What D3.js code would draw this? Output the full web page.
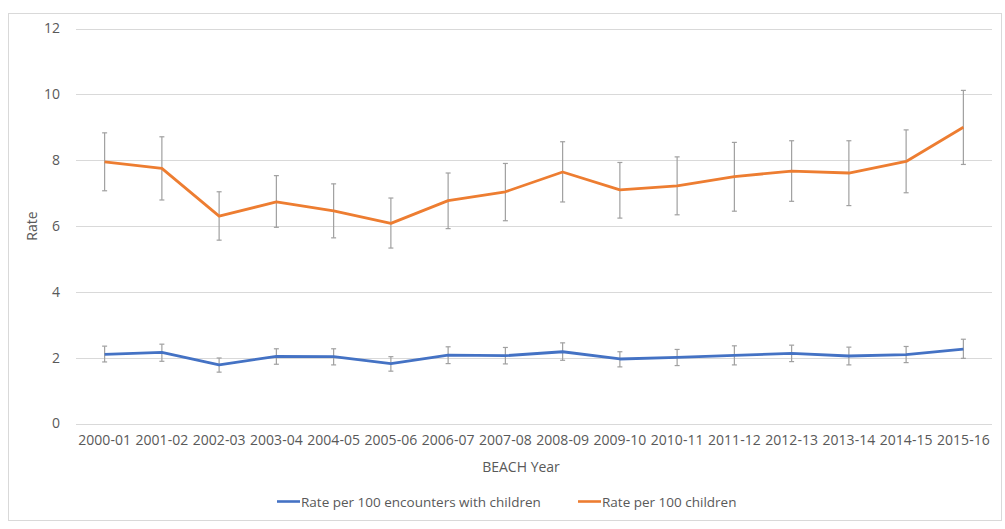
<!DOCTYPE html>
<html>
<head>
<meta charset="utf-8">
<script src="https://cdn.jsdelivr.net/npm/d3@7"></script>
<style>
  html, body { margin: 0; padding: 0; background: #fff; }
  svg { display: block; }
  text { font-family: "Open Sans", "Liberation Sans", sans-serif; fill: #595959; }
</style>
</head>
<body>
<svg id="chart" width="1005" height="529"></svg>
<script>
// BEACH years on the x axis
const years = ["2000-01","2001-02","2002-03","2003-04","2004-05","2005-06","2006-07","2007-08",
               "2008-09","2009-10","2010-11","2011-12","2012-13","2013-14","2014-15","2015-16"];

// Rate per 100 encounters with children, with 95% CI bounds
const encRate  = [2.10, 2.16, 1.78, 2.04, 2.03, 1.82, 2.08, 2.06, 2.18, 1.96, 2.01, 2.07, 2.13, 2.05, 2.09, 2.26];
const encLower = [1.87, 1.89, 1.56, 1.80, 1.78, 1.59, 1.82, 1.81, 1.92, 1.72, 1.76, 1.78, 1.88, 1.78, 1.85, 1.98];
const encUpper = [2.35, 2.41, 1.99, 2.27, 2.27, 2.03, 2.33, 2.31, 2.45, 2.18, 2.25, 2.36, 2.38, 2.32, 2.34, 2.56];

// Rate per 100 children, with 95% CI bounds
const childRate  = [7.95, 7.75, 6.30, 6.73, 6.46, 6.08, 6.77, 7.04, 7.64, 7.10, 7.22, 7.50, 7.67, 7.61, 7.96, 9.00];
const childLower = [7.07, 6.79, 5.57, 5.96, 5.64, 5.33, 5.92, 6.16, 6.73, 6.24, 6.34, 6.45, 6.75, 6.62, 7.01, 7.87];
const childUpper = [8.83, 8.71, 7.04, 7.53, 7.28, 6.85, 7.61, 7.90, 8.56, 7.93, 8.10, 8.54, 8.59, 8.59, 8.92, 10.12];

const yTicks = [0, 2, 4, 6, 8, 10, 12];

const seriesNames = ["Rate per 100 encounters with children", "Rate per 100 children"];
const seriesColors = ["#4472C4", "#ED7D31"];

const svg = d3.select("#chart");

// outer chart frame
svg.append("rect")
  .attr("x", 8.5).attr("y", 13.5)
  .attr("width", 993).attr("height", 507)
  .attr("fill", "#fff").attr("stroke", "#d9d9d9").attr("stroke-width", 1);

const plot = { left: 76, right: 992, top: 28.5, bottom: 423.5 };

const x = d3.scaleBand().domain(years).range([plot.left, plot.right]);
const y = d3.scaleLinear().domain([0, 12]).range([plot.bottom, plot.top]);
const cx = d => x(d) + x.bandwidth() / 2;

// horizontal gridlines
svg.append("g").selectAll("line").data(yTicks).join("line")
  .attr("x1", plot.left).attr("x2", plot.right)
  .attr("y1", d => Math.round(y(d)) + 0.5).attr("y2", d => Math.round(y(d)) + 0.5)
  .attr("stroke", "#d9d9d9").attr("stroke-width", 1);

// y axis labels
const yAxis = d3.axisLeft(y).tickValues(yTicks).tickSize(0).tickPadding(0);
const yg = svg.append("g").attr("transform", `translate(${plot.left - 16},0)`).call(yAxis);
yg.select(".domain").remove();
yg.selectAll("text").attr("font-size", 14).attr("fill", "#595959")
  .style("font-family", '"Open Sans", sans-serif');

// x axis labels
const xAxis = d3.axisBottom(x).tickSize(0).tickPadding(0);
const xg = svg.append("g").attr("transform", `translate(0,${plot.bottom + 12})`).call(xAxis);
xg.select(".domain").remove();
xg.selectAll("text").attr("font-size", 14).attr("fill", "#595959")
  .style("font-family", '"Open Sans", sans-serif');

// axis titles
svg.append("text")
  .attr("x", (plot.left + plot.right) / 2 - 13).attr("y", 471.5)
  .attr("text-anchor", "middle").attr("font-size", 14)
  .text("BEACH Year");

svg.append("text")
  .attr("transform", `translate(37,${(plot.top + plot.bottom) / 2}) rotate(-90)`)
  .attr("text-anchor", "middle").attr("font-size", 14)
  .text("Rate");

// error bars for one series
function errorBars(lower, upper) {
  const g = svg.append("g").attr("stroke", "#a0a0a0").attr("stroke-width", 1.2);
  years.forEach((yr, i) => {
    const xc = cx(yr);
    g.append("line").attr("x1", xc).attr("x2", xc).attr("y1", y(lower[i])).attr("y2", y(upper[i]));
    g.append("line").attr("x1", xc - 2.5).attr("x2", xc + 2.5).attr("y1", y(lower[i])).attr("y2", y(lower[i]));
    g.append("line").attr("x1", xc - 2.5).attr("x2", xc + 2.5).attr("y1", y(upper[i])).attr("y2", y(upper[i]));
  });
}

const line = d3.line().x((d, i) => cx(years[i])).y(d => y(d));

errorBars(encLower, encUpper);
errorBars(childLower, childUpper);

svg.append("path").datum(encRate).attr("d", line)
  .attr("fill", "none").attr("stroke", seriesColors[0]).attr("stroke-width", 2.8)
  .attr("stroke-linejoin", "round");
svg.append("path").datum(childRate).attr("d", line)
  .attr("fill", "none").attr("stroke", seriesColors[1]).attr("stroke-width", 2.8)
  .attr("stroke-linejoin", "round");

// legend
const legendItems = [{ x: 277, name: seriesNames[0], color: seriesColors[0] },
                     { x: 578, name: seriesNames[1], color: seriesColors[1] }];
const lg = svg.append("g");
legendItems.forEach(it => {
  lg.append("line").attr("x1", it.x).attr("x2", it.x + 23)
    .attr("y1", 501.5).attr("y2", 501.5)
    .attr("stroke", it.color).attr("stroke-width", 2.6);
  lg.append("text").attr("x", it.x + 24).attr("y", 506.5)
    .attr("font-size", 13.5).text(it.name);
});
</script>
</body>
</html>
